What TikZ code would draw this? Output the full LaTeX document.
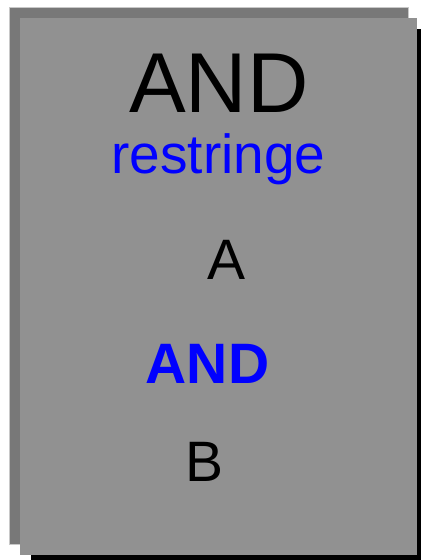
\documentclass[tikz,border=0pt]{standalone}
\usepackage{fontspec}
\setmainfont{Liberation Sans}
\definecolor{backgray}{RGB}{120,120,120}
\definecolor{frontgray}{RGB}{145,145,145}
\definecolor{edgegray}{RGB}{200,200,200}
\definecolor{txtblue}{RGB}{0,0,255}
\begin{document}
\begin{tikzpicture}[x=1pt,y=-1pt,
  lbl/.style={anchor=base,inner sep=0pt,outer sep=0pt}]
\useasboundingbox (0,0) rectangle (421,560);
\fill[backgray,draw=edgegray,line width=0.8pt] (9,7) rectangle (408,544);
\fill[black] (31,29) rectangle (421,560);
\fill[frontgray] (20,18) rectangle (417,555);
\node[lbl,font=\fontsize{85}{90}\selectfont] (title) at (219,112) {AND};
\node[lbl,text=txtblue,font=\fontsize{55}{60}\selectfont] (restr) at (218.5,173) {restringe};
\node[lbl,font=\fontsize{57}{62}\selectfont] (a) at (227,279) {A};
\node[lbl,text=txtblue,font=\fontsize{57}{62}\selectfont\bfseries] (and) at (207.5,383) {AND};
\node[lbl,font=\fontsize{57}{62}\selectfont] (b) at (205,481) {B};
\end{tikzpicture}
\end{document}
